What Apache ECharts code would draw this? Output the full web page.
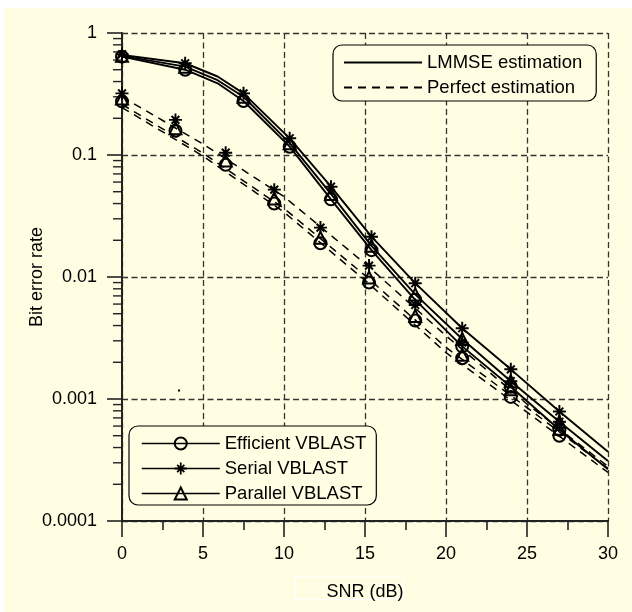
<!DOCTYPE html>
<html>
<head>
<meta charset="utf-8">
<script src="https://cdn.jsdelivr.net/npm/echarts@6/dist/echarts.min.js"></script>
<style>
  html, body { margin: 0; padding: 0; background: #ffffff; }
  #chart {
    position: absolute; left: 0; top: 0; width: 632px; height: 612px;
    background:
      linear-gradient(#ffffff, #ffffff) top left / 100% 8px no-repeat,
      linear-gradient(#ffffff, #ffffff) top left / 4px 100% no-repeat,
      #FFFEE2;
  }
</style>
</head>
<body>
<div id="chart"></div>
<script>
// Axis ticks
const xTickLabels = ['0', '5', '10', '15', '20', '25', '30'];
const yTickValues = [0.0001, 0.001, 0.01, 0.1, 1];
const yTickLabels = ['0.0001', '0.001', '0.01', '0.1', '1'];
const yMinorMantissas = [2, 3, 4, 5, 6, 7, 8, 9];

// BER curves, LMMSE channel estimation (solid)
const lmmseLineSnr      = [0, 3.9, 5.9, 7.5, 10.35, 12.9, 15.4, 18.1, 21, 24, 27, 30];
const lmmseSerialBer    = [0.66, 0.565, 0.44, 0.32, 0.137, 0.055, 0.0214, 0.0089, 0.0038, 0.00175, 0.00079, 0.00037];
const lmmseParallelBer  = [0.65, 0.53, 0.41, 0.30, 0.125, 0.048, 0.018, 0.0072, 0.0031, 0.0014, 0.00065, 0.00031];
const lmmseEfficientBer = [0.64, 0.50, 0.387, 0.277, 0.117, 0.0433, 0.0166, 0.0065, 0.0027, 0.00126, 0.00056, 0.000266];

// BER curves, perfect channel estimation (dashed)
const perfectLineSnr      = [0, 5, 10, 15, 20, 25, 30];
const perfectSerialBer    = [0.30, 0.123, 0.0456, 0.0129, 0.0033, 0.00091, 0.00028];
const perfectParallelBer  = [0.26, 0.1035, 0.0365, 0.0103, 0.00265, 0.00085, 0.00027];
const perfectEfficientBer = [0.245, 0.098, 0.034, 0.0094, 0.0024, 0.00078, 0.00025];

// Simulated points (markers)
const lmmseMarkSnr       = [0, 3.9, 7.5, 10.35, 12.9, 15.4, 18.1, 21, 24, 27];
const lmmseSerialMark    = [0.67, 0.565, 0.32, 0.137, 0.055, 0.0214, 0.0089, 0.0038, 0.00175, 0.00079];
const lmmseParallelMark  = [0.65, 0.53, 0.30, 0.125, 0.048, 0.018, 0.0072, 0.0031, 0.0014, 0.00065];
const lmmseEfficientMark = [0.64, 0.50, 0.277, 0.117, 0.0433, 0.0166, 0.0065, 0.0027, 0.00126, 0.00056];

const perfectMarkSnr       = [0, 3.3, 6.4, 9.4, 12.25, 15.25, 18.1, 21, 24, 27];
const perfectSerialMark    = [0.32, 0.194, 0.1045, 0.052, 0.0254, 0.0124, 0.0059, 0.0029, 0.0014, 0.00065];
const perfectParallelMark  = [0.29, 0.166, 0.09, 0.044, 0.021, 0.0099, 0.0048, 0.0023, 0.0012, 0.00057];
const perfectEfficientMark = [0.275, 0.158, 0.083, 0.040, 0.0189, 0.009, 0.0044, 0.00216, 0.00104, 0.0005];

const FONT = 'Liberation Sans, Arial, sans-serif';
const INK = '#000000';
const AXIS = '#222222';
const PAPER = '#FFFEE2';

const pairs = (xs, ys) => xs.map((x, i) => [x, ys[i]]);

// minor log ticks between decades
const yMinorTicks = [];
yTickValues.slice(0, -1).forEach(d => yMinorMantissas.forEach(m => yMinorTicks.push(d * m)));

const STAR = 'path://M0 8.5L20 8.5L20 11.5L0 11.5Z M8.5 0L11.5 0L11.5 20L8.5 20Z ' +
  'M5.06 2.94L17.06 14.94L14.94 17.06L2.94 5.06Z M17.06 5.06L5.06 17.06L2.94 14.94L14.94 2.94Z';

const curve = (name, xs, ys, dashed) => ({
  name, type: 'line', data: pairs(xs, ys), symbol: 'none', silent: true, z: 3,
  itemStyle: { color: 'transparent' },
  lineStyle: { color: INK, width: dashed ? 1.5 : 1.9, type: dashed ? [8, 6] : 'solid' }
});

const markerStyles = {
  'Efficient VBLAST': { symbol: 'circle', symbolSize: 12,
    itemStyle: { color: 'transparent', borderColor: INK, borderWidth: 2 } },
  'Serial VBLAST': { symbol: STAR, symbolSize: 13,
    itemStyle: { color: INK, borderWidth: 0 } },
  'Parallel VBLAST': { symbol: 'triangle', symbolSize: 12,
    itemStyle: { color: 'transparent', borderColor: INK, borderWidth: 2 } }
};

const marks = (name, xs, ys) => Object.assign({
  name, type: 'line', data: pairs(xs, ys), showSymbol: true, showAllSymbol: true,
  silent: true, z: 5,
  lineStyle: { width: 0, opacity: 0 }
}, markerStyles[name]);

const chart = echarts.init(document.getElementById('chart'), null, { renderer: 'canvas' });

chart.setOption({
  animation: false,
  backgroundColor: 'transparent',
  textStyle: { fontFamily: FONT, color: INK },
  grid: { left: 122, right: 24, top: 33, bottom: 91, outerBoundsMode: 'none' },
  xAxis: {
    type: 'value', min: 0, max: 30, interval: 5,
    name: 'SNR (dB)', nameLocation: 'middle', nameGap: 62, nameMoveOverlap: false,
    nameTextStyle: { fontSize: 18, color: INK, fontFamily: FONT },
    axisLine: { show: true, onZero: false, lineStyle: { color: AXIS, width: 2 } },
    axisTick: { show: true, inside: false, length: 16, lineStyle: { color: AXIS, width: 1.6 } },
    minorTick: { show: true, splitNumber: 2, length: 9, lineStyle: { color: AXIS, width: 1.6 } },
    axisLabel: { margin: 24, fontSize: 18, color: INK, fontFamily: FONT,
      formatter: (v) => xTickLabels[Math.round(v / 5)] },
    splitLine: { show: true, lineStyle: { color: '#333333', width: 1.3, type: [6, 3.5] } }
  },
  yAxis: {
    type: 'log', logBase: 10, min: 0.0001, max: 1,
    name: 'Bit error rate', nameLocation: 'middle', nameGap: 76, nameRotate: 90,
    nameMoveOverlap: false,
    nameTextStyle: { fontSize: 18, color: INK, fontFamily: FONT },
    axisLine: { show: true, lineStyle: { color: AXIS, width: 2 } },
    axisTick: { show: true, inside: false, length: 15, lineStyle: { color: AXIS, width: 1.6 } },
    axisLabel: { margin: 25, fontSize: 18, color: INK, fontFamily: FONT,
      formatter: (v) => yTickLabels[Math.round(Math.log10(v)) + 4] },
    splitLine: { show: true, lineStyle: { color: '#333333', width: 1.3, type: [6, 3.5] } }
  },
  legend: [
    {
      data: ['LMMSE estimation', 'Perfect estimation'],
      orient: 'vertical', left: 333, top: 45,
      itemWidth: 78, itemHeight: 15, itemGap: 6,
      padding: [8, 14, 4, 10],
      backgroundColor: PAPER, borderColor: INK, borderWidth: 1.2, borderRadius: 9,
      itemStyle: { color: 'transparent', borderWidth: 0, opacity: 0 },
      textStyle: { fontSize: 18.5, color: INK, fontFamily: FONT },
      selectedMode: false
    },
    {
      data: ['Efficient VBLAST', 'Serial VBLAST', 'Parallel VBLAST'],
      orient: 'vertical', left: 129, top: 426,
      itemWidth: 78, itemHeight: 15, itemGap: 6,
      padding: [8, 10, 2, 12],
      backgroundColor: PAPER, borderColor: INK, borderWidth: 1.2, borderRadius: 9,
      lineStyle: { color: INK, width: 1.5, type: 'solid', opacity: 1 },
      textStyle: { fontSize: 18.5, color: INK, fontFamily: FONT },
      selectedMode: false
    }
  ],
  graphic: [
    { type: 'rect', silent: true, shape: { x: 295.5, y: 576.5, width: 108, height: 23 },
      style: { fill: 'none', stroke: '#ffffff', lineWidth: 1 } },
    { type: 'rect', silent: true, shape: { x: 178, y: 389.5, width: 2, height: 2 },
      style: { fill: '#000000' } }
  ],
  series: [
    {
      type: 'custom', silent: true, clip: false, z: 4,
      data: yMinorTicks.map(v => [0, v]),
      renderItem: (params, api) => {
        const p = api.coord([0, api.value(1)]);
        return { type: 'line', shape: { x1: p[0] - 9, y1: p[1], x2: p[0], y2: p[1] },
          style: { stroke: AXIS, lineWidth: 1.4 } };
      }
    },
    curve('LMMSE estimation', lmmseLineSnr, lmmseSerialBer, false),
    curve('LMMSE estimation', lmmseLineSnr, lmmseParallelBer, false),
    curve('LMMSE estimation', lmmseLineSnr, lmmseEfficientBer, false),
    curve('Perfect estimation', perfectLineSnr, perfectSerialBer, true),
    curve('Perfect estimation', perfectLineSnr, perfectParallelBer, true),
    curve('Perfect estimation', perfectLineSnr, perfectEfficientBer, true),
    marks('Efficient VBLAST', lmmseMarkSnr, lmmseEfficientMark),
    marks('Efficient VBLAST', perfectMarkSnr, perfectEfficientMark),
    marks('Serial VBLAST', lmmseMarkSnr, lmmseSerialMark),
    marks('Serial VBLAST', perfectMarkSnr, perfectSerialMark),
    marks('Parallel VBLAST', lmmseMarkSnr, lmmseParallelMark),
    marks('Parallel VBLAST', perfectMarkSnr, perfectParallelMark)
  ]
});
</script>
</body>
</html>
